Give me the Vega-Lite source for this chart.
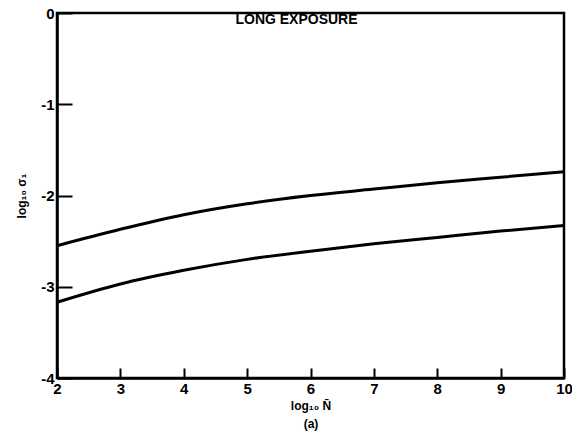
{
  "$schema": "https://vega.github.io/schema/vega-lite/v6.json",
  "width": 507,
  "height": 365,
  "autosize": "none",
  "padding": {"left": 57, "top": 13, "right": 8, "bottom": 66},
  "background": "white",
  "config": {
    "view": {"stroke": "black", "strokeWidth": 2.5},
    "font": "Liberation Sans",
    "axis": {
      "domainColor": "black",
      "domainWidth": 2.5,
      "tickColor": "black",
      "tickWidth": 2,
      "grid": false,
      "labelFont": "Liberation Sans",
      "labelFontWeight": "bold",
      "labelFontSize": 15,
      "labelColor": "black",
      "titleFont": "Liberation Sans",
      "titleFontWeight": "bold",
      "titleColor": "black"
    }
  },
  "title": {
    "text": "LONG EXPOSURE",
    "fontSize": 14,
    "font": "Liberation Sans",
    "fontWeight": "bold",
    "color": "black",
    "offset": -21,
    "dx": -14
  },
  "data": {
    "values": [
      {"N": 2, "sigma": -2.55, "curve": "upper"},
      {"N": 3, "sigma": -2.37, "curve": "upper"},
      {"N": 4, "sigma": -2.21, "curve": "upper"},
      {"N": 5, "sigma": -2.09, "curve": "upper"},
      {"N": 6, "sigma": -2.0, "curve": "upper"},
      {"N": 7, "sigma": -1.93, "curve": "upper"},
      {"N": 8, "sigma": -1.86, "curve": "upper"},
      {"N": 9, "sigma": -1.8, "curve": "upper"},
      {"N": 10, "sigma": -1.74, "curve": "upper"},
      {"N": 2, "sigma": -3.17, "curve": "lower"},
      {"N": 3, "sigma": -2.97, "curve": "lower"},
      {"N": 4, "sigma": -2.82, "curve": "lower"},
      {"N": 5, "sigma": -2.7, "curve": "lower"},
      {"N": 6, "sigma": -2.61, "curve": "lower"},
      {"N": 7, "sigma": -2.53, "curve": "lower"},
      {"N": 8, "sigma": -2.46, "curve": "lower"},
      {"N": 9, "sigma": -2.39, "curve": "lower"},
      {"N": 10, "sigma": -2.33, "curve": "lower"}
    ]
  },
  "mark": {"type": "line", "color": "black", "strokeWidth": 3, "interpolate": "monotone"},
  "encoding": {
    "x": {
      "field": "N",
      "type": "quantitative",
      "scale": {"domain": [2, 10], "nice": false},
      "axis": {
        "values": [2, 3, 4, 5, 6, 7, 8, 9, 10],
        "tickSize": -10,
        "labelPadding": 13,
        "labelFlush": false,
        "title": ["log₁₀ N̄", "(a)"],
        "titleFontSize": 12,
        "titlePadding": 4,
        "titleLineHeight": 18
      }
    },
    "y": {
      "field": "sigma",
      "type": "quantitative",
      "scale": {"domain": [-4, 0], "nice": false},
      "axis": {
        "values": [-4, -3, -2, -1, 0],
        "tickSize": -15,
        "labelPadding": 18,
        "labelFlush": false,
        "labelExpr": "datum.value < 0 ? '-' + abs(datum.value) : '' + datum.value",
        "title": "log₁₀ σ₁",
        "titleFontSize": 12,
        "titlePadding": 12
      }
    },
    "detail": {"field": "curve"}
  }
}
